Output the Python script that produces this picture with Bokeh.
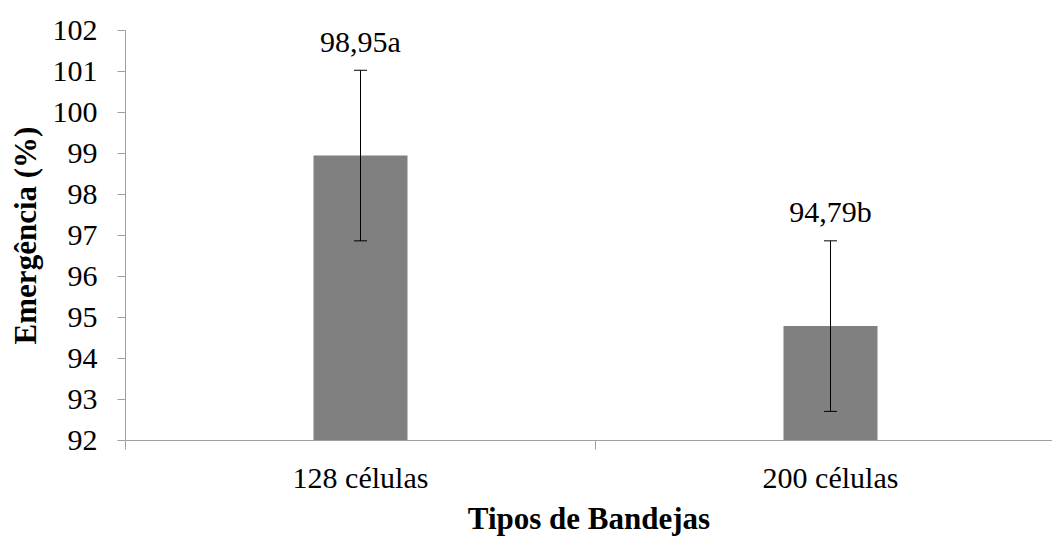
from bokeh.plotting import figure
from bokeh.models import ColumnDataSource, Range1d, FixedTicker, Whisker, TeeHead
from bokeh.core.properties import value
from bokeh.embed import file_html
from bokeh.resources import INLINE

# ---- data ----
categories = ["128 células", "200 células"]
emergencia = [98.95, 94.79]
erro = [2.08, 2.08]
rotulos = ["98,95a", "94,79b"]
y_ticks = [92, 93, 94, 95, 96, 97, 98, 99, 100, 101, 102]
y_min, y_max = 92, 102

FONT = "Liberation Serif"

x_pos = [i + 0.5 for i in range(len(categories))]
src = ColumnDataSource(dict(
    x=x_pos,
    top=emergencia,
    upper=[v + e for v, e in zip(emergencia, erro)],
    lower=[v - e for v, e in zip(emergencia, erro)],
    label=rotulos,
))

W, H = 1052, 538
LEFT = 125
p = figure(width=W, height=H, output_backend="svg", toolbar_location=None,
           x_range=Range1d(0, (W - LEFT) / 470), y_range=Range1d(y_min, y_max),
           min_border_left=LEFT, min_border_right=0, min_border_top=30, min_border_bottom=60)
p.outline_line_color = None
p.grid.visible = False
p.background_fill_color = "white"

p.vbar(x="x", top="top", bottom=y_min, width=0.2, source=src,
       fill_color="#808080", line_color=None)

w = Whisker(base="x", upper="upper", lower="lower", source=src,
            line_color="black", line_width=1, level="overlay",
            upper_head=TeeHead(size=13, line_color="black", line_width=1),
            lower_head=TeeHead(size=13, line_color="black", line_width=1))
p.add_layout(w)

p.text(x="x", y="upper", text="label", source=src, text_align="center",
       text_baseline="alphabetic", y_offset=-29, text_font=value(FONT),
       text_font_size="30px", text_color="black")

AX = "#a0a0a0"
# y axis
p.yaxis.ticker = FixedTicker(ticks=y_ticks)
p.yaxis.major_tick_out = 8
p.yaxis.major_tick_in = 0
p.yaxis.minor_tick_line_color = None
p.yaxis.axis_line_color = AX
p.yaxis.major_tick_line_color = AX
p.yaxis.major_label_standoff = 20
p.yaxis.major_label_text_font = FONT
p.yaxis.major_label_text_font_size = "30px"
p.yaxis.major_label_text_color = "black"
p.yaxis.axis_label = "Emergência (%)"
p.yaxis.axis_label_text_font = FONT
p.yaxis.axis_label_text_font_size = "31px"
p.yaxis.axis_label_text_font_style = "bold"
p.yaxis.axis_label_text_color = "black"
p.yaxis.axis_label_standoff = 7

# x axis: labels at category centres, tick marks between categories
p.xaxis.ticker = FixedTicker(ticks=x_pos, minor_ticks=[float(i) for i in range(len(categories) + 1)])
p.xaxis.major_label_overrides = {x: c for x, c in zip(x_pos, categories)}
p.xaxis.major_tick_out = 0
p.xaxis.major_tick_in = 0
p.xaxis.minor_tick_out = 9
p.xaxis.minor_tick_in = 0
p.xaxis.minor_tick_line_color = AX
p.xaxis.axis_line_color = AX
p.xaxis.major_label_standoff = 11
p.xaxis.major_label_text_font = FONT
p.xaxis.major_label_text_font_size = "30px"
p.xaxis.major_label_text_color = "black"
p.xaxis.axis_label = "Tipos de Bandejas"
p.xaxis.axis_label_text_font = FONT
p.xaxis.axis_label_text_font_size = "31px"
p.xaxis.axis_label_text_font_style = "bold"
p.xaxis.axis_label_text_color = "black"
p.xaxis.axis_label_standoff = 4

open("out.html", "w").write(file_html(p, INLINE))
